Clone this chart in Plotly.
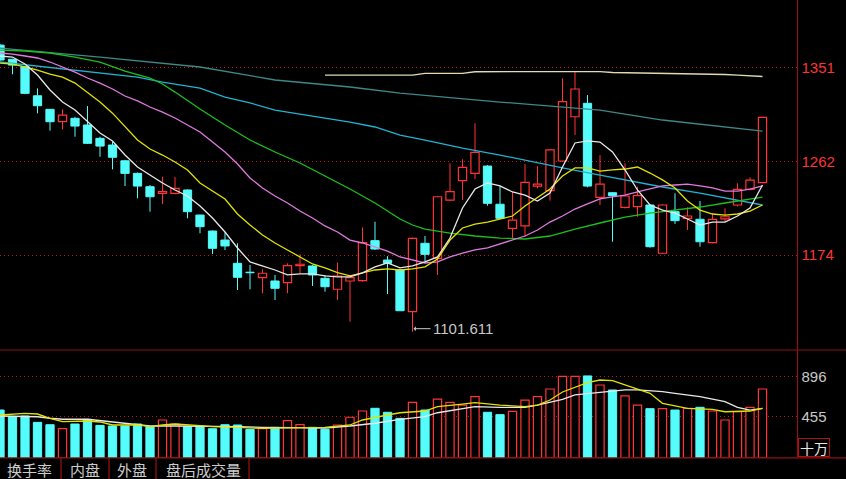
import plotly.graph_objects as go

# candle data (one entry per day, oldest first)
opens = [1372.4, 1359.0, 1352.0, 1324.5, 1311.7, 1300.0, 1303.2, 1296.9, 1284.3, 1278.0,
         1263.1, 1251.2, 1238.6, 1232.3, 1232.3, 1235.5, 1211.8, 1196.7, 1188.2, 1166.2,
         1157.8, 1152.6, 1149.5, 1147.9, 1164.0, 1163.7, 1152.0, 1141.7, 1149.5, 1149.8,
         1187.6, 1169.3, 1159.9, 1120.5, 1185.1, 1170.9, 1226.0, 1244.3, 1251.2, 1258.1,
         1222.0, 1199.3, 1201.5, 1239.2, 1234.8, 1262.9, 1304.7, 1317.4, 1228.6, 1232.9,
         1219.1, 1219.7, 1221.3, 1175.7, 1215.0, 1208.7, 1207.8, 1185.7, 1208.1, 1221.3,
         1236.1, 1242.4]
highs = [1373.5, 1359.5, 1352.5, 1331.5, 1312.0, 1311.7, 1304.7, 1314.8, 1285.8, 1281.1,
         1264.0, 1252.0, 1240.2, 1248.0, 1248.0, 1236.0, 1212.3, 1197.2, 1195.5, 1185.1,
         1164.6, 1160.5, 1155.2, 1166.2, 1174.7, 1164.5, 1155.2, 1166.8, 1155.2, 1200.2,
         1205.5, 1173.0, 1160.5, 1190.5, 1192.0, 1230.0, 1260.7, 1264.5, 1298.5, 1259.0,
         1239.2, 1233.9, 1260.0, 1258.1, 1274.0, 1341.0, 1347.2, 1325.2, 1268.5, 1233.5,
         1260.7, 1238.6, 1222.0, 1222.0, 1232.3, 1219.1, 1225.1, 1213.5, 1218.2, 1241.8,
         1247.5, 1304.5]
lows = [1357.5, 1344.8, 1326.0, 1307.9, 1291.5, 1292.8, 1285.8, 1278.9, 1266.9, 1255.0,
        1239.2, 1227.6, 1215.0, 1222.2, 1231.4, 1208.7, 1194.6, 1175.0, 1178.8, 1141.0,
        1141.7, 1137.9, 1131.5, 1137.9, 1156.8, 1144.8, 1139.4, 1131.5, 1111.0, 1148.8,
        1178.8, 1137.2, 1121.0, 1101.611, 1167.7, 1155.2, 1225.0, 1226.0, 1245.6, 1220.6,
        1208.0, 1189.8, 1191.3, 1237.1, 1225.4, 1262.0, 1287.4, 1238.0, 1221.3, 1186.6,
        1218.0, 1210.2, 1181.0, 1175.0, 1203.4, 1197.7, 1181.9, 1185.0, 1205.5, 1220.0,
        1235.0, 1242.0]
closes = [1358.3, 1353.5, 1326.8, 1315.1, 1300.0, 1306.3, 1295.9, 1279.6, 1277.0, 1266.4,
          1251.2, 1239.2, 1229.1, 1233.9, 1237.1, 1215.0, 1200.8, 1180.4, 1182.6, 1153.0,
          1157.3, 1156.8, 1142.6, 1164.0, 1165.3, 1155.2, 1144.1, 1154.2, 1152.6, 1185.7,
          1179.7, 1166.2, 1121.4, 1189.8, 1174.7, 1229.1, 1233.9, 1256.9, 1271.1, 1222.9,
          1208.7, 1207.1, 1242.7, 1241.1, 1273.3, 1318.9, 1330.9, 1239.2, 1241.1, 1230.1,
          1229.8, 1230.1, 1181.9, 1221.3, 1206.5, 1210.9, 1186.6, 1207.8, 1210.2, 1236.1,
          1244.9, 1304.1]
# volume, in units of 十万
volumes = [529, 455, 463, 393, 367, 323, 375, 426, 360, 353,
           353, 375, 345, 419, 375, 345, 353, 323, 367, 364,
           316, 323, 338, 411, 367, 338, 316, 364, 449, 518,
           548, 504, 437, 614, 529, 650, 614, 584, 676, 504,
           478, 515, 639, 676, 761, 900, 900, 905, 805, 750,
           684, 584, 544, 544, 529, 548, 559, 518, 419, 511,
           559, 761]

# moving averages as drawn (they start before the first visible candle)
ma5 = [1362.1, 1361.1, 1354.5, 1344.1, 1330.0, 1318.6, 1311.0, 1300.6, 1289.4, 1281.8,
       1268.5, 1257.2, 1249.6, 1242.1, 1235.5, 1229.8, 1220.4, 1209.0, 1195.8, 1180.7,
       1167.5, 1163.7, 1159.9, 1155.2, 1156.2, 1156.2, 1154.3, 1153.4, 1153.4, 1157.1,
       1162.8, 1166.6, 1161.9, 1163.7, 1167.5, 1172.2, 1190.1, 1218.5, 1236.4, 1242.1,
       1239.3, 1233.6, 1230.7, 1225.1, 1232.6, 1257.2, 1279.9, 1281.8, 1280.8, 1271.4,
       1254.4, 1235.5, 1221.3, 1216.5, 1213.7, 1208.1, 1202.4, 1205.2, 1205.2, 1210.9,
       1218.5, 1240.2]
ma10 = [1355.4, 1354.5, 1351.7, 1348.8, 1345.0, 1342.2, 1336.5, 1327.1, 1318.6, 1308.1,
        1295.9, 1282.7, 1274.2, 1268.5, 1261.9, 1254.4, 1242.1, 1234.5, 1227.0, 1212.8,
        1202.4, 1193.0, 1185.4, 1178.8, 1172.2, 1165.6, 1161.8, 1157.4, 1154.3, 1157.1,
        1159.9, 1160.9, 1159.9, 1160.9, 1162.8, 1170.3, 1188.2, 1199.6, 1203.3, 1205.2,
        1208.1, 1210.9, 1220.4, 1228.0, 1236.4, 1248.7, 1256.3, 1256.3, 1253.4, 1254.4,
        1255.3, 1257.2, 1251.5, 1245.0, 1237.4, 1225.1, 1216.5, 1212.8, 1211.8, 1212.8,
        1215.6, 1221.3]
ma20 = [1364.9, 1363.9, 1362.1, 1360.2, 1356.4, 1351.7, 1346.9, 1341.3, 1336.5, 1330.9,
        1324.3, 1319.6, 1313.9, 1309.1, 1303.5, 1296.9, 1290.3, 1280.8, 1271.4, 1260.0,
        1246.8, 1237.4, 1229.8, 1223.2, 1215.6, 1209.0, 1201.5, 1195.8, 1188.2, 1185.4,
        1181.6, 1177.8, 1172.2, 1169.3, 1166.5, 1167.5, 1172.2, 1175.9, 1178.8, 1180.7,
        1184.5, 1188.2, 1192.0, 1197.7, 1205.2, 1210.9, 1217.5, 1222.3, 1227.0, 1228.9,
        1230.7, 1233.6, 1236.4, 1239.3, 1240.2, 1241.1, 1239.3, 1237.4, 1234.5, 1234.5,
        1236.4, 1239.3]
ma30_idx = [0, 2, 4, 6, 8, 10, 12, 13, 14, 16, 18, 20, 22, 24, 26, 28, 30, 32, 33, 34,
            36, 38, 40, 42, 44, 46, 48, 50, 52, 54, 56, 58, 60, 61]
ma30 = [1367.7, 1366.8, 1364.9, 1361.1, 1356.4, 1347.8, 1341.3, 1335.6, 1328.0, 1312.0,
        1296.9, 1282.7, 1271.4, 1261.0, 1248.7, 1236.4, 1223.2, 1208.1, 1202.4, 1198.6,
        1194.8, 1192.0, 1190.1, 1189.2, 1192.0, 1198.6, 1204.3, 1209.9, 1213.7, 1216.5,
        1219.4, 1223.2, 1226.9, 1228.8]
ma60_idx = [0, 3, 5, 8, 11, 13, 16, 18, 20, 22, 25, 28, 30, 32, 34, 37, 40, 43, 45, 48,
            50, 53, 56, 59, 61]
ma60 = [1356.4, 1352.6, 1349.8, 1346.0, 1342.2, 1337.5, 1331.8, 1323.3, 1317.7, 1311.0,
        1305.4, 1299.7, 1295.0, 1287.4, 1282.7, 1275.1, 1268.5, 1261.0, 1256.3, 1249.6,
        1244.9, 1238.3, 1232.6, 1226.0, 1221.3]
ma120_idx = [0, 8, 16, 22, 28, 32, 40, 48, 53, 59, 61]
ma120 = [1369.6, 1361.1, 1351.7, 1339.4, 1332.8, 1327.1, 1318.6, 1311.0, 1301.6, 1294.0,
         1291.2]
ma250_idx = [26, 33, 34, 37, 38, 48, 49, 52, 55, 58, 59, 61]
ma250 = [1344.1, 1344.1, 1345.7, 1345.7, 1347.2, 1347.4, 1346.5, 1346.0, 1345.0, 1344.6,
         1344.1, 1342.7]

vma_a_idx = [0, 2, 3, 4, 5, 7, 8, 9, 11, 12, 13, 14, 16, 17, 19, 21, 24, 26, 28, 29,
             31, 32, 34, 35, 37, 38, 40, 42, 43, 44, 45, 47, 48, 49, 50, 52, 53, 55, 57, 58,
             60, 61]
vma_a = [474, 492, 485, 438, 400, 408, 397, 364, 364, 345, 364, 375, 356, 345, 338, 327,
         334, 338, 364, 419, 474, 499, 518, 566, 595, 610, 584, 566, 584, 639, 728, 830,
         860, 852, 805, 713, 603, 548, 537, 510, 518, 548]
vma_b_idx = [0, 3, 4, 5, 7, 8, 10, 12, 14, 16, 19, 21, 24, 26, 28, 30, 32, 34, 35, 37,
             38, 40, 42, 43, 45, 46, 48, 50, 51, 53, 54, 56, 58, 59, 60, 61]
vma_b = [463, 455, 438, 427, 427, 411, 383, 353, 353, 353, 345, 338, 338, 331, 353, 383,
         427, 455, 499, 548, 566, 559, 559, 584, 647, 695, 720, 750, 750, 731, 713, 676,
         621, 559, 529, 548]

price_ticks = [1174, 1262, 1351]
vol_ticks = [455, 896]
tab_labels = ['换手率', '内盘', '外盘', '盘后成交量']

W, H = 846, 479
RED = '#ff3434'
CYAN = '#54fcfc'
DARKRED = '#8c1414'
AX = 797.5 / W          # right edge of the plot area
X_RANGE = [0, 63.8]
BODY_W = 0.66
GRID_DASH = '1px,3px'


def py(px):
    # pixel row -> paper y
    return (H - px) / H


n = len(opens)
idx = list(range(n))
up = [i for i in idx if closes[i] >= opens[i]]
down = [i for i in idx if closes[i] < opens[i]]


def wicks(rows):
    xs, ys = [], []
    for i in rows:
        top = max(opens[i], closes[i])
        bot = min(opens[i], closes[i])
        xs += [i, i, None, i, i, None]
        ys += [highs[i], top, None, bot, lows[i], None]
    return xs, ys


fig = go.Figure()

for rows, col in [(up, RED), (down, CYAN)]:
    wx, wy = wicks(rows)
    fig.add_trace(go.Scatter(x=wx, y=wy, mode='lines', line=dict(color=col, width=1),
                             hoverinfo='skip', showlegend=False))

fig.add_trace(go.Bar(x=up, y=[closes[i] - opens[i] for i in up], base=[opens[i] for i in up],
                     width=BODY_W, marker=dict(color='black', line=dict(color=RED, width=1.2)),
                     showlegend=False))
fig.add_trace(go.Bar(x=down, y=[opens[i] - closes[i] for i in down], base=[closes[i] for i in down],
                     width=BODY_W, marker=dict(color=CYAN, line=dict(color=CYAN, width=1)),
                     showlegend=False))

ma_lines = [
    (ma250_idx, ma250, '#dcdcae'),
    (ma120_idx, ma120, '#3f8888'),
    (ma60_idx, ma60, '#22b2d2'),
    (ma30_idx, ma30, '#1cc01c'),
    (idx, ma20, '#e07ae0'),
    (idx, ma10, '#e2e200'),
    (idx, ma5, '#e8e8e8'),
]
for xs, ys, col in ma_lines:
    fig.add_trace(go.Scatter(x=xs, y=ys, mode='lines', line=dict(color=col, width=1.3),
                             hoverinfo='skip', showlegend=False))

# volume panel
fig.add_trace(go.Bar(x=up, y=[volumes[i] for i in up], xaxis='x2', yaxis='y2',
                     width=BODY_W, marker=dict(color='black', line=dict(color=RED, width=1.2)),
                     showlegend=False))
fig.add_trace(go.Bar(x=down, y=[volumes[i] for i in down], xaxis='x2', yaxis='y2',
                     width=BODY_W, marker=dict(color=CYAN, line=dict(color=CYAN, width=1)),
                     showlegend=False))
fig.add_trace(go.Scatter(x=vma_b_idx, y=vma_b, xaxis='x2', yaxis='y2', mode='lines',
                         line=dict(color='#e8e8e8', width=1.3), showlegend=False))
fig.add_trace(go.Scatter(x=vma_a_idx, y=vma_a, xaxis='x2', yaxis='y2', mode='lines',
                         line=dict(color='#e2e200', width=1.3), showlegend=False))

label_font = dict(family='Liberation Sans, Arial', size=15)

shapes = [
    dict(type='line', xref='paper', yref='paper', x0=0, x1=1, y0=py(350), y1=py(350),
         line=dict(color=DARKRED, width=1.2)),
    dict(type='line', xref='paper', yref='paper', x0=0, x1=1, y0=py(457.8), y1=py(457.8),
         line=dict(color=DARKRED, width=1.2)),
    dict(type='line', xref='paper', yref='paper', x0=AX, x1=AX, y0=py(457.8), y1=1,
         line=dict(color=DARKRED, width=1.2)),
]
for sx in [61, 109, 156, 249]:
    shapes.append(dict(type='line', xref='paper', yref='paper', x0=sx / W, x1=sx / W,
                       y0=0, y1=py(458), line=dict(color='#a01010', width=1.2)))

annotations = []
low_i = lows.index(min(lows))
annotations.append(dict(x=low_i, y=lows[low_i], xref='x', yref='y', text=f'{lows[low_i]:.3f}',
                        showarrow=True, ax=18, ay=0, xanchor='left', arrowhead=1, arrowsize=0.8,
                        arrowwidth=1, arrowcolor='#c8c8c8', standoff=1, yshift=3,
                        font=dict(family='Liberation Sans, Arial', size=15, color='#c8c8c8')))
for label, cx in zip(tab_labels, [29, 85, 132, 203]):
    annotations.append(dict(x=cx / W, y=py(469), xref='paper', yref='paper', text=label,
                            showarrow=False, xanchor='center', yanchor='middle',
                            font=dict(family='Noto Sans CJK SC', size=15, color='#cccccc')))
annotations.append(dict(x=814 / W, y=py(447.5), xref='paper', yref='paper', text='十万',
                        showarrow=False, xanchor='center', yanchor='middle',
                        width=30, height=17, bordercolor='#b01010', borderwidth=1,
                        borderpad=0, font=dict(family='Noto Sans CJK SC', size=14, color='#e8e8e8')))

fig.update_layout(
    width=W, height=H,
    margin=dict(l=0, r=0, t=0, b=0),
    paper_bgcolor='black', plot_bgcolor='black',
    barmode='overlay',
    showlegend=False,
    xaxis=dict(domain=[0, AX], range=X_RANGE, visible=False, fixedrange=True),
    xaxis2=dict(domain=[0, AX], range=X_RANGE, visible=False, anchor='y2', fixedrange=True),
    yaxis=dict(domain=[py(350), 1], range=[1084.3, 1415.0], side='right', anchor='x',
               tickvals=price_ticks, ticks='', ticklabelstandoff=3,
               tickfont=dict(color=RED, **label_font),
               showgrid=True, gridcolor='#c01818', griddash=GRID_DASH, gridwidth=1,
               zeroline=False, showline=False, fixedrange=True),
    yaxis2=dict(domain=[py(458), py(350)], range=[0, 1190.7], side='right', anchor='x2',
                tickvals=vol_ticks, ticks='', ticklabelstandoff=3,
                tickfont=dict(color='#c8c8c8', **label_font),
                showgrid=True, gridcolor='#c01818', griddash=GRID_DASH, gridwidth=1,
                zeroline=False, showline=False, fixedrange=True),
    shapes=shapes,
    annotations=annotations,
)

# the page's default body margin would push the chart off the window edge
fig.write_html('out.html', config={'displayModeBar': False},
               post_script="document.body.style.margin='0';"
                           "document.body.style.background='black';")
